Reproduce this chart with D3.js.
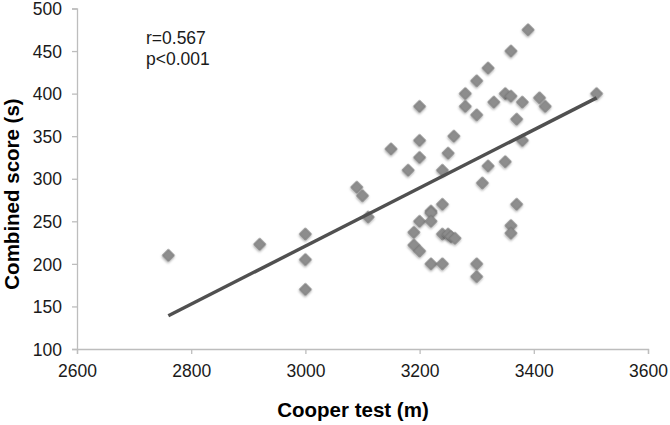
<!DOCTYPE html>
<html>
<head>
<meta charset="utf-8">
<script src="https://cdn.jsdelivr.net/npm/d3@7"></script>
<style>
  body { margin: 0; background: #fff; }
  svg { display: block; font-family: "Liberation Sans", Arial, sans-serif; }
</style>
</head>
<body>
<div class="chart"></div>
<script>
// Cooper test distance (m) for each subject
const cooper = [
	2760, 2920, 3000, 3000, 3000, 3090, 3100, 3110, 3150, 3180,
	3190, 3190, 3200, 3200, 3200, 3200, 3200, 3220, 3220, 3220,
	3220, 3240, 3240, 3240, 3240, 3250, 3250, 3255, 3262, 3260,
	3280, 3280, 3300, 3300, 3300, 3300, 3310, 3320, 3320, 3330,
	3350, 3350, 3360, 3360, 3360, 3360, 3370, 3370, 3380, 3380,
	3390, 3410, 3420, 3510
]
// combined score (s), same order
const combined = [
	210, 223, 235, 205, 170, 290, 280, 255, 335, 310,
	237, 222, 385, 345, 325, 250, 215, 262, 260, 250,
	200, 310, 270, 235, 200, 330, 235, 232, 230, 350,
	400, 385, 415, 375, 200, 185, 295, 430, 315, 390,
	400, 320, 450, 397, 245, 236, 370, 270, 390, 345,
	475, 395, 385, 400
]
// trend line ends
const trendX = [2760, 3510]
const trendY = [139, 395]

const xTicks = [2600, 2800, 3000, 3200, 3400, 3600]
const yTicks = [100, 150, 200, 250, 300, 350, 400, 450, 500]
const note = ['r=0.567', 'p<0.001']

const W = 670, H = 425
const svg = d3.select('.chart').append('svg')
	.attr('width', W)
	.attr('height', H)

const x = d3.scaleLinear().domain([2600, 3600]).range([77, 648])
const y = d3.scaleLinear().domain([100, 500]).range([349, 8.5])

const defs = svg.append('defs')
const shadow = defs.append('filter').attr('id', 'sh')
	.attr('x', '-50%').attr('y', '-50%').attr('width', '200%').attr('height', '200%')
shadow.append('feDropShadow')
	.attr('dx', 0.8).attr('dy', 1.2).attr('stdDeviation', 1)
	.attr('flood-color', '#000').attr('flood-opacity', 0.35)

// axes
const xAxis = svg.append('g')
	.attr('transform', `translate(0,${y(100)})`)
	.call(d3.axisBottom(x).tickValues(xTicks).tickSize(5).tickPadding(11).tickFormat(d3.format('d')))
const yAxis = svg.append('g')
	.attr('transform', `translate(${x(2600)},0)`)
	.call(d3.axisLeft(y).tickValues(yTicks).tickSize(5).tickPadding(10))

for (const g of [xAxis, yAxis]) {
	g.select('.domain').attr('stroke', '#bdbdbd').attr('stroke-width', 1.3)
	g.selectAll('.tick line').attr('stroke', '#bdbdbd').attr('stroke-width', 1.3)
	g.selectAll('.tick text').attr('fill', '#1a1a1a').style('font-size', '17.5px')
}
yAxis.selectAll('.tick text').attr('dy', '0.35em')

// points
svg.append('g').selectAll('path')
	.data(d3.zip(cooper, combined))
	.join('path')
	.attr('d', d3.symbol(d3.symbolSquare, 72))
	.attr('transform', d => `translate(${x(d[0])},${y(d[1])}) rotate(45)`)
	.attr('fill', '#8d8d8d')
	.attr('stroke', '#777')
	.attr('stroke-width', 0.8)
	.attr('filter', 'url(#sh)')

// trend line
svg.append('path')
	.datum(d3.zip(trendX, trendY))
	.attr('d', d3.line().x(d => x(d[0])).y(d => y(d[1])))
	.attr('stroke', '#505050')
	.attr('stroke-width', 3.4)
	.attr('fill', 'none')

// r / p note
svg.append('g').selectAll('text')
	.data(note)
	.join('text')
	.attr('x', 146)
	.attr('y', (d, i) => 43.5 + i * 21)
	.attr('fill', '#1a1a1a')
	.style('font-size', '17.5px')
	.text(d => d)

// axis titles
svg.append('text')
	.attr('x', 353)
	.attr('y', 417)
	.attr('text-anchor', 'middle')
	.style('font-size', '20.5px')
	.style('font-weight', 'bold')
	.text('Cooper test (m)')
svg.append('text')
	.attr('transform', 'translate(19,194) rotate(-90)')
	.attr('text-anchor', 'middle')
	.style('font-size', '20.5px')
	.style('font-weight', 'bold')
	.text('Combined score (s)')
</script>
</body>
</html>
